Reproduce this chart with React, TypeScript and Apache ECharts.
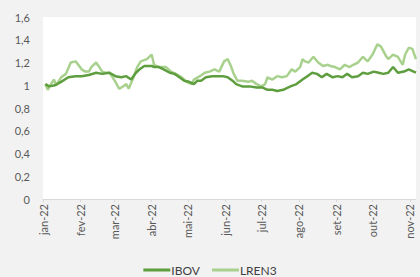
import React, { useEffect, useRef } from "react";
import * as echarts from "echarts";

const monthNames = ["jan", "fev", "mar", "abr", "mai", "jun", "jul", "ago", "set", "out", "nov", "dez"];
const yTicks = [0, 0.2, 0.4, 0.6, 0.8, 1, 1.2, 1.4, 1.6];

const ibovDates = [
  "2022-01-03", "2022-01-06", "2022-01-11", "2022-01-16", "2022-01-22", "2022-01-28",
  "2022-02-02", "2022-02-08", "2022-02-14", "2022-02-19", "2022-02-25",
  "2022-03-02", "2022-03-07", "2022-03-11", "2022-03-15", "2022-03-19", "2022-03-22", "2022-03-26",
  "2022-04-01", "2022-04-03", "2022-04-07", "2022-04-11", "2022-04-16", "2022-04-20", "2022-04-24", "2022-04-28",
  "2022-05-02", "2022-05-06", "2022-05-09", "2022-05-12", "2022-05-16", "2022-05-21", "2022-05-26", "2022-05-30",
  "2022-06-03", "2022-06-07", "2022-06-10", "2022-06-15", "2022-06-21", "2022-06-27",
  "2022-07-02", "2022-07-06", "2022-07-10", "2022-07-14", "2022-07-19", "2022-07-25", "2022-07-30",
  "2022-08-04", "2022-08-08", "2022-08-12", "2022-08-16", "2022-08-20", "2022-08-24", "2022-08-29",
  "2022-09-02", "2022-09-06", "2022-09-10", "2022-09-14", "2022-09-19", "2022-09-23", "2022-09-27",
  "2022-10-02", "2022-10-06", "2022-10-10", "2022-10-14", "2022-10-18", "2022-10-22", "2022-10-27", "2022-10-31",
  "2022-11-04", "2022-11-06",
];
const ibovValues = [
  1.01, 0.99, 1.0, 1.03, 1.07, 1.08, 1.08, 1.09, 1.11, 1.1,
  1.11, 1.08, 1.07, 1.08, 1.05, 1.11, 1.14, 1.17, 1.17, 1.16,
  1.16, 1.14, 1.11, 1.1, 1.07, 1.04, 1.03, 1.01, 1.04, 1.04,
  1.07, 1.08, 1.08, 1.08, 1.07, 1.04, 1.01, 0.99, 0.99, 0.98,
  0.98, 0.96, 0.96, 0.95, 0.96, 0.99, 1.01, 1.05, 1.08, 1.11,
  1.1, 1.07, 1.1, 1.07, 1.08, 1.07, 1.1, 1.07, 1.08, 1.11,
  1.1, 1.12, 1.11, 1.1, 1.11, 1.16, 1.11, 1.12, 1.14, 1.12,
  1.11,
];

const lrenDates = [
  "2022-01-03", "2022-01-05", "2022-01-07", "2022-01-10", "2022-01-12", "2022-01-16", "2022-01-20", "2022-01-24", "2022-01-28", "2022-01-31",
  "2022-02-02", "2022-02-05", "2022-02-08", "2022-02-10", "2022-02-14", "2022-02-16", "2022-02-19", "2022-02-22", "2022-02-25", "2022-02-27",
  "2022-03-02", "2022-03-05", "2022-03-07", "2022-03-11", "2022-03-13", "2022-03-17", "2022-03-20", "2022-03-23", "2022-03-28",
  "2022-04-01", "2022-04-03", "2022-04-07", "2022-04-13", "2022-04-17", "2022-04-21", "2022-04-26", "2022-04-30",
  "2022-05-04", "2022-05-06", "2022-05-11", "2022-05-15", "2022-05-19", "2022-05-23", "2022-05-27", "2022-05-31",
  "2022-06-03", "2022-06-06", "2022-06-08", "2022-06-11", "2022-06-15", "2022-06-20", "2022-06-23", "2022-06-27",
  "2022-07-01", "2022-07-04", "2022-07-06", "2022-07-10", "2022-07-14", "2022-07-18", "2022-07-22", "2022-07-26", "2022-07-29",
  "2022-08-02", "2022-08-04", "2022-08-06", "2022-08-09", "2022-08-13", "2022-08-17", "2022-08-21", "2022-08-25", "2022-08-27", "2022-08-31",
  "2022-09-04", "2022-09-08", "2022-09-12", "2022-09-15", "2022-09-19", "2022-09-23", "2022-09-27",
  "2022-10-01", "2022-10-05", "2022-10-08", "2022-10-12", "2022-10-14", "2022-10-18", "2022-10-22", "2022-10-26", "2022-10-28", "2022-10-31",
  "2022-11-03", "2022-11-06",
];
const lrenValues = [
  1.01, 0.96, 1.0, 1.05, 1.0, 1.07, 1.1, 1.2, 1.21, 1.17,
  1.14, 1.12, 1.12, 1.16, 1.2, 1.17, 1.12, 1.11, 1.11, 1.08,
  1.03, 0.97, 0.98, 1.01, 0.97, 1.07, 1.16, 1.21, 1.23, 1.27,
  1.18, 1.16, 1.16, 1.12, 1.1, 1.07, 1.03, 1.01, 1.05, 1.08,
  1.11, 1.12, 1.14, 1.12, 1.21, 1.23, 1.16, 1.1, 1.04, 1.04,
  1.03, 1.04, 1.01, 0.99, 1.01, 1.07, 1.05, 1.08, 1.07, 1.08,
  1.14, 1.12, 1.16, 1.23, 1.21, 1.2, 1.25, 1.2, 1.17, 1.18,
  1.17, 1.16, 1.14, 1.18, 1.16, 1.18, 1.2, 1.25, 1.21, 1.27,
  1.36, 1.34, 1.26, 1.23, 1.27, 1.25, 1.18, 1.27, 1.33, 1.32,
  1.23,
];

const axisStart = "2022-01-01";
const axisEnd = "2022-11-06";

function buildDays(start: string, end: string): string[] {
  const out: string[] = [];
  const d = new Date(start + "T00:00:00Z");
  const e = new Date(end + "T00:00:00Z");
  while (d.getTime() <= e.getTime()) {
    out.push(d.toISOString().slice(0, 10));
    d.setUTCDate(d.getUTCDate() + 1);
  }
  return out;
}

const FONT = "Lato, 'Noto Sans', sans-serif";

export default function App() {
  const ref = useRef<HTMLDivElement>(null);
  useEffect(() => {
    if (!ref.current) return;
    const chart = echarts.init(ref.current, undefined, { renderer: "svg" });
    const days = buildDays(axisStart, axisEnd);
    const isMonthStart = (_i: number, v: string) => v.slice(8, 10) === "01";
    chart.setOption({
      animation: false,
      backgroundColor: "#f2f2f2",
      textStyle: { fontFamily: FONT },
      grid: {
        left: 43,
        right: 4,
        top: 17,
        bottom: 78,
        show: true,
        backgroundColor: "#ffffff",
        borderWidth: 0,
      },
      legend: {
        bottom: 1,
        left: "center",
        padding: 0,
        itemWidth: 27,
        itemHeight: 3,
        itemGap: 12,
        icon: "rect",
        textStyle: { color: "#404040", fontSize: 12, fontFamily: FONT, padding: [0, 0, 0, -4] },
        data: ["IBOV", "LREN3"],
      },
      xAxis: {
        type: "category",
        data: days,
        boundaryGap: false,
        axisLine: { show: true, lineStyle: { color: "#d9d9d9", width: 1 } },
        axisTick: { show: true, interval: isMonthStart, length: 3, lineStyle: { color: "#d9d9d9" } },
        axisLabel: {
          interval: isMonthStart,
          rotate: 90,
          color: "#595959",
          fontSize: 11,
          fontFamily: FONT,
          margin: 5,
          formatter: (v: string) => monthNames[parseInt(v.slice(5, 7), 10) - 1] + "-" + v.slice(2, 4),
        },
        splitLine: { show: false },
      },
      yAxis: {
        type: "value",
        min: yTicks[0],
        max: yTicks[yTicks.length - 1],
        interval: 0.2,
        axisLine: { show: false },
        axisTick: { show: false },
        splitLine: { show: false },
        axisLabel: {
          color: "#595959",
          fontSize: 11,
          fontFamily: FONT,
          margin: 13,
          formatter: (v: number) => String(Math.round(v * 10) / 10).replace(".", ","),
        },
      },
      series: [
        {
          name: "IBOV",
          type: "line",
          data: ibovDates.map((d, i) => [d, ibovValues[i]]),
          showSymbol: false,
          symbol: "none",
          lineStyle: { color: "#5e9e3e", width: 2.5 },
          itemStyle: { color: "#5e9e3e" },
          z: 3,
        },
        {
          name: "LREN3",
          type: "line",
          data: lrenDates.map((d, i) => [d, lrenValues[i]]),
          showSymbol: false,
          symbol: "none",
          lineStyle: { color: "#a9d18e", width: 2.5 },
          itemStyle: { color: "#a9d18e" },
          z: 2,
        },
      ],
    });
    return () => chart.dispose();
  }, []);
  return <div ref={ref} style={{ position: "fixed", left: 0, top: 0, width: 420, height: 277 }} />;
}
